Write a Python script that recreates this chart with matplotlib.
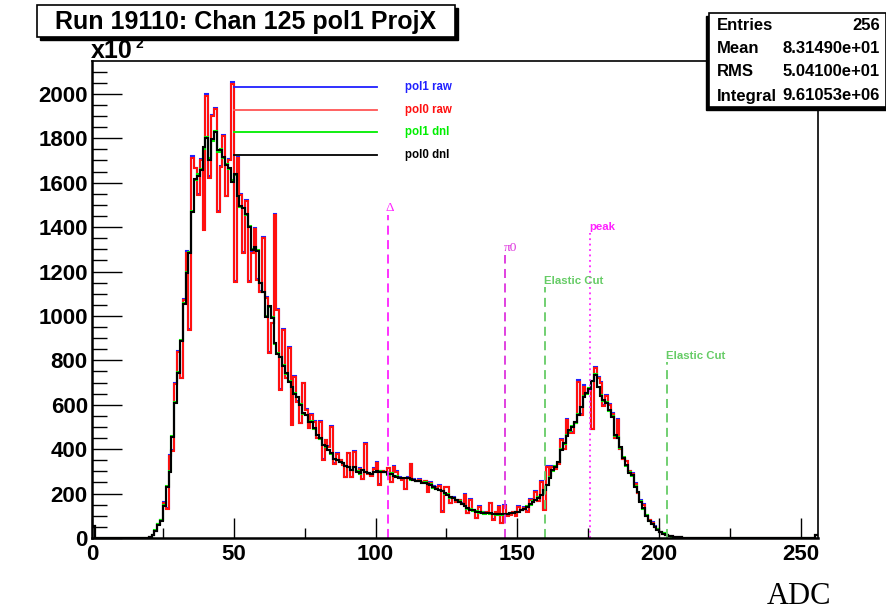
import matplotlib
matplotlib.use('Agg')
import matplotlib.pyplot as plt
from matplotlib.patches import Rectangle
from matplotlib.lines import Line2D
from matplotlib.ticker import MultipleLocator
import numpy as np

plt.rcParams['font.family'] = ['Liberation Sans', 'DejaVu Sans']

# ---------------- data (counts in units of 10^2, 256 ADC bins) ----------------
pol0_dnl = [
    55, 0, 0, 0, 0, 0, 0, 0, 0, 0,
    0, 0, 0, 0, 0, 0, 0, 0, 0, 1,
    3, 13, 33, 60, 78, 145, 228, 299, 456, 610,
    745, 889, 1054, 1195, 1282, 1470, 1617, 1632, 1655, 1760,
    1800, 1703, 1796, 1827, 1745, 1745, 1715, 1680, 1665, 1605,
    1640, 1538, 1495, 1485, 1459, 1402, 1297, 1312, 1294, 1147,
    1110, 997, 1045, 990, 877, 829, 817, 775, 742, 704,
    682, 649, 637, 599, 562, 554, 524, 524, 494, 464,
    449, 419, 414, 396, 381, 354, 351, 341, 339, 324,
    321, 306, 321, 299, 291, 306, 299, 291, 290, 295,
    300, 299, 299, 296, 286, 290, 280, 276, 270, 268,
    272, 270, 265, 260, 258, 255, 249, 248, 245, 239,
    228, 219, 216, 210, 201, 195, 183, 180, 172, 164,
    153, 144, 134, 128, 124, 119, 116, 114, 112, 111,
    111, 108, 107, 106, 107, 107, 110, 112, 114, 116,
    118, 124, 131, 140, 152, 164, 172, 182, 195, 215,
    240, 270, 306, 321, 344, 396, 426, 459, 486, 501,
    524, 554, 592, 637, 652, 670, 709, 734, 682, 640,
    622, 607, 577, 544, 464, 449, 408, 359, 329, 294,
    284, 231, 209, 164, 135, 100, 78, 63, 50, 38,
    28, 20, 14, 10, 7, 5, 4, 3, 2, 2,
    1.5, 1, 1, 1, 1, 1, 0.5, 0.5, 0.5, 0.5,
    0.5, 0.5, 0.5, 0.5, 0.5, 0.5, 0.5, 0.5, 0.5, 0.5,
    0.2, 0.2, 0.2, 0.2, 0.2, 0.2, 0.2, 0.2, 0.2, 0.2,
    0.2, 0.2, 0.2, 0.2, 0.2, 0.2, 0.2, 0.2, 0.2, 0.2,
    0.2, 0.2, 0.2, 0.2, 0.2, 15,
]

pol1_dnl = [
    55, 0, 0, 0, 0, 0, 0, 0, 0, 0,
    0, 0, 0, 0, 0, 0, 0, 0, 0, 1,
    3, 14, 35, 62, 80, 148, 232, 302, 458, 612,
    748, 890, 1058, 1198, 1286, 1474, 1612, 1640, 1660, 1752,
    1808, 1710, 1788, 1832, 1740, 1750, 1712, 1684, 1660, 1610,
    1636, 1542, 1490, 1488, 1455, 1406, 1300, 1308, 1298, 1150,
    1106, 1000, 1040, 994, 874, 832, 814, 778, 740, 706,
    680, 652, 634, 602, 560, 556, 522, 526, 492, 466,
    447, 421, 412, 398, 379, 356, 349, 343, 337, 326,
    319, 308, 319, 301, 289, 308, 297, 293, 288, 297,
    298, 301, 297, 298, 284, 292, 278, 278, 268, 270,
    270, 272, 263, 262, 256, 257, 247, 250, 243, 241,
    226, 221, 214, 212, 199, 197, 181, 182, 170, 166,
    151, 146, 132, 130, 122, 121, 114, 116, 110, 113,
    109, 110, 105, 108, 105, 109, 108, 114, 112, 118,
    116, 126, 129, 142, 150, 166, 170, 184, 193, 218,
    237, 274, 302, 325, 340, 400, 422, 463, 482, 505,
    520, 558, 588, 641, 648, 674, 705, 738, 678, 644,
    618, 611, 573, 548, 460, 453, 404, 363, 325, 298,
    280, 235, 205, 168, 131, 104, 76, 65, 48, 40,
    27, 21, 13, 11, 6, 5, 4, 3, 2, 2,
    1.5, 1, 1, 1, 1, 1, 0.5, 0.5, 0.5, 0.5,
    0.5, 0.5, 0.5, 0.5, 0.5, 0.5, 0.5, 0.5, 0.5, 0.5,
    0.2, 0.2, 0.2, 0.2, 0.2, 0.2, 0.2, 0.2, 0.2, 0.2,
    0.2, 0.2, 0.2, 0.2, 0.2, 0.2, 0.2, 0.2, 0.2, 0.2,
    0.2, 0.2, 0.2, 0.2, 0.2, 15,
]

pol0_raw = [
    55, 0, 0, 0, 0, 0, 0, 0, 0, 0,
    0, 0, 0, 0, 0, 0, 0, 0, 0, 1,
    4, 14, 30, 62, 80, 156, 130, 369, 393, 694,
    839, 719, 1072, 1285, 937, 1710, 1665, 1545, 1703, 1387,
    1991, 1623, 1901, 1931, 1470, 1670, 1811, 1538, 1703, 2045,
    1155, 1710, 1545, 1282, 1519, 1155, 1285, 1390, 1162, 1110,
    1350, 1080, 832, 967, 1455, 1027, 667, 937, 719, 854,
    509, 727, 614, 516, 697, 577, 494, 554, 524, 449,
    524, 351, 440, 410, 501, 333, 380, 350, 330, 273,
    381, 273, 389, 300, 310, 264, 423, 290, 280, 310,
    339, 239, 300, 295, 314, 250, 321, 299, 270, 261,
    219, 270, 332, 261, 255, 262, 250, 255, 209, 249,
    230, 225, 234, 119, 228, 228, 156, 180, 160, 170,
    155, 194, 111, 171, 125, 89, 140, 115, 112, 115,
    156, 81, 115, 141, 66, 144, 100, 105, 115, 100,
    141, 125, 135, 119, 171, 160, 209, 165, 254, 126,
    321, 280, 320, 310, 335, 441, 400, 532, 475, 474,
    520, 704, 554, 682, 652, 670, 489, 764, 720, 697,
    595, 640, 600, 560, 449, 532, 400, 355, 345, 300,
    290, 245, 201, 168, 150, 100, 80, 68, 50, 40,
    28, 20, 15, 10, 7, 5, 4, 3, 2, 2,
    1.5, 1, 1, 1, 1, 1, 0.5, 0.5, 0.5, 0.5,
    0.5, 0.5, 0.5, 0.5, 0.5, 0.5, 0.5, 0.5, 0.5, 0.5,
    0.2, 0.2, 0.2, 0.2, 0.2, 0.2, 0.2, 0.2, 0.2, 0.2,
    0.2, 0.2, 0.2, 0.2, 0.2, 0.2, 0.2, 0.2, 0.2, 0.2,
    0.2, 0.2, 0.2, 0.2, 0.2, 15,
]

pol1_raw = [
    55, 0, 0, 0, 0, 0, 0, 0, 0, 0,
    0, 0, 0, 0, 0, 0, 0, 0, 0, 1,
    4, 15, 31, 64, 82, 160, 133, 372, 396, 700,
    842, 722, 1078, 1292, 940, 1718, 1668, 1550, 1708, 1390,
    1998, 1628, 1906, 1936, 1474, 1675, 1816, 1542, 1708, 2052,
    1158, 1716, 1548, 1286, 1524, 1158, 1290, 1394, 1166, 1114,
    1354, 1084, 836, 970, 1460, 1030, 670, 940, 722, 858,
    512, 730, 617, 519, 700, 580, 497, 557, 527, 452,
    527, 354, 443, 413, 504, 336, 383, 353, 333, 276,
    384, 276, 392, 303, 313, 267, 426, 293, 283, 313,
    342, 242, 303, 298, 317, 253, 324, 302, 273, 264,
    222, 273, 335, 264, 258, 265, 253, 258, 212, 252,
    233, 228, 237, 122, 231, 231, 159, 183, 163, 173,
    158, 197, 114, 174, 128, 92, 143, 118, 115, 118,
    159, 84, 118, 144, 69, 147, 103, 108, 118, 103,
    144, 128, 138, 122, 174, 163, 212, 168, 257, 129,
    324, 283, 323, 313, 338, 444, 403, 536, 478, 477,
    523, 710, 557, 688, 655, 673, 492, 770, 724, 703,
    598, 644, 603, 563, 452, 536, 403, 358, 348, 303,
    293, 248, 204, 171, 153, 103, 82, 70, 52, 41,
    29, 21, 15, 10, 7, 5, 4, 3, 2, 2,
    1.5, 1, 1, 1, 1, 1, 0.5, 0.5, 0.5, 0.5,
    0.5, 0.5, 0.5, 0.5, 0.5, 0.5, 0.5, 0.5, 0.5, 0.5,
    0.2, 0.2, 0.2, 0.2, 0.2, 0.2, 0.2, 0.2, 0.2, 0.2,
    0.2, 0.2, 0.2, 0.2, 0.2, 0.2, 0.2, 0.2, 0.2, 0.2,
    0.2, 0.2, 0.2, 0.2, 0.2, 15,
]

series_names = ['pol1 raw', 'pol0 raw', 'pol1 dnl', 'pol0 dnl']
series_colors = ['#2020ff', '#ff1010', '#00ee00', '#000000']

marker_x = [104.2, 145.8, 159.6, 175.5, 202.7]
marker_top = [1455, 1275, 1132, 1374, 794]
marker_labels = ['Δ', 'π0', 'Elastic Cut', 'peak', 'Elastic Cut']
marker_colors = ['#ff22ff', '#dd33dd', '#66cc66', '#ff22ff', '#66cc66']
marker_styles = [(0, (5, 3)), (0, (5, 3)), (0, (5, 3)), (0, (1, 2)), (0, (5, 3))]

stats_labels = ['Entries', 'Mean', 'RMS', 'Integral']
stats_values = ['256', '8.31490e+01', '5.04100e+01', '9.61053e+06']

title = 'Run 19110: Chan 125 pol1 ProjX'
xlabel = 'ADC'

# ---------------- figure ----------------
W, H = 886, 612
fig = plt.figure(figsize=(W / 100, H / 100), dpi=100)
fig.patch.set_facecolor('white')


def fx(px):
    return px / W


def fy(py):
    return 1 - py / H


L, R, T, B = 92, 818, 61, 538
ax = fig.add_axes([fx(L), fy(B), fx(R) - fx(L), fy(T) - fy(B)])
edges = np.arange(0, 257)
for vals, col in zip([pol1_raw, pol0_raw, pol1_dnl, pol0_dnl], series_colors):
    ax.stairs(vals, edges, color=col, lw=1.5, baseline=None)

ax.set_xlim(0, 256)
ax.set_ylim(0, 2148)

for xm, top, lab, col, ls in zip(marker_x, marker_top, marker_labels,
                                 marker_colors, marker_styles):
    ax.plot([xm, xm], [0, top], color=col, lw=1.3, linestyle=ls)
    if lab in ('Δ', 'π0'):
        ax.text(xm - 0.6, top + 5, lab, color=col, fontsize=9.5,
                family=['Liberation Serif', 'DejaVu Serif'],
                ha='left', va='bottom')
    else:
        ax.text(xm - 0.3, top + 5, lab, color=col, fontsize=8.2,
                fontweight='bold', ha='left', va='bottom')

ax.xaxis.set_major_locator(MultipleLocator(50))
ax.xaxis.set_minor_locator(MultipleLocator(25))
ax.yaxis.set_major_locator(MultipleLocator(200))
ax.yaxis.set_minor_locator(MultipleLocator(50))
ax.tick_params(axis='x', which='major', direction='in', length=14.4, width=1,
               labelsize=16, pad=4)
ax.tick_params(axis='x', which='minor', direction='in', length=7.2, width=1)
ax.tick_params(axis='y', which='major', direction='in', length=21.8, width=1,
               labelsize=16, pad=3)
ax.tick_params(axis='y', which='minor', direction='in', length=10.9, width=1)
for lbl in ax.get_xticklabels() + ax.get_yticklabels():
    lbl.set_fontweight('bold')
for sp in ax.spines.values():
    sp.set_linewidth(1.2)
ax.spines['left'].set_linewidth(1.8)
ax.spines['bottom'].set_linewidth(1.8)

# x10^2 multiplier
fig.text(fx(91), fy(58), 'x10', fontsize=18, fontweight='bold',
         ha='left', va='baseline')
fig.text(fx(135.5), fy(48), '2', fontsize=10, fontweight='bold',
         ha='left', va='baseline')

# axis title
fig.text(fx(831), fy(604), xlabel, fontsize=22,
         family=['Liberation Serif', 'DejaVu Serif'], ha='right', va='baseline')

# legend lines
leg_y = [87, 110, 132, 155]
for y, name, col in zip(leg_y, series_names, series_colors):
    legcol = '#ff5555' if name == 'pol0 raw' else col
    fig.add_artist(Line2D([fx(234), fx(377)], [fy(y), fy(y)], color=legcol,
                          lw=1.3))
    fig.text(fx(405), fy(y), name, color=col, fontsize=8.3, fontweight='bold',
             ha='left', va='center')

# title box with shadow
fig.add_artist(Rectangle((fx(40), fy(40)), fx(455) - fx(37), fy(5) - fy(37),
                         transform=fig.transFigure, facecolor='black',
                         edgecolor='black', zorder=4))
fig.add_artist(Rectangle((fx(37), fy(37)), fx(455) - fx(37), fy(5) - fy(37),
                         transform=fig.transFigure, facecolor='white',
                         edgecolor='black', lw=1.2, zorder=5))
fig.text(fx(246), fy(21.5), title, fontsize=18, fontweight='bold',
         ha='center', va='center', zorder=6)

# stats box with shadow
fig.add_artist(Rectangle((fx(706), fy(110)), fx(886) - fx(706), fy(16) - fy(110),
                         transform=fig.transFigure, facecolor='black',
                         edgecolor='black', zorder=4))
fig.add_artist(Rectangle((fx(709), fy(107)), fx(886) - fx(709), fy(13) - fy(107),
                         transform=fig.transFigure, facecolor='white',
                         edgecolor='black', lw=1.2, zorder=5))
row_y = [25, 48.5, 72, 96]
for y, lab, val in zip(row_y, stats_labels, stats_values):
    fig.text(fx(717), fy(y), lab, fontsize=12, fontweight='bold',
             ha='left', va='center', zorder=6)
    fig.text(fx(880), fy(y), val, fontsize=12, fontweight='bold',
             ha='right', va='center', zorder=6)

fig.savefig('out.png', dpi=100)
